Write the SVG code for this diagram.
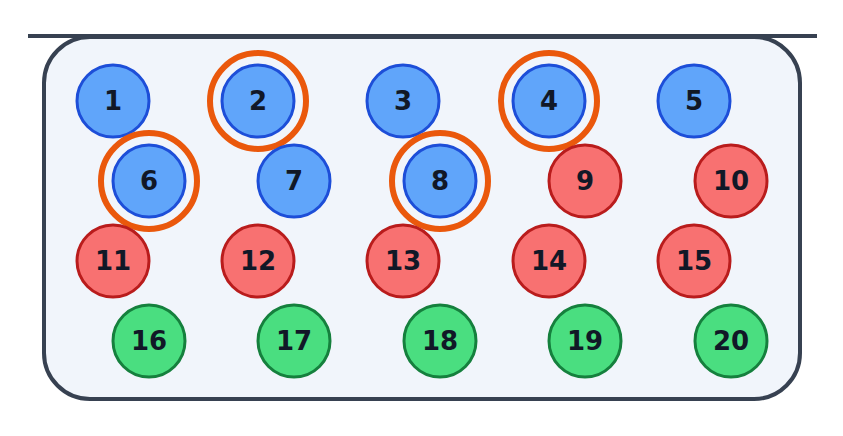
<svg xmlns="http://www.w3.org/2000/svg" width="843" height="436" viewBox="0 0 843 436">
<style>
.b{fill:#60a5fa;stroke:#1d4ed8;stroke-width:3}
.r{fill:#f87171;stroke:#b91c1c;stroke-width:3}
.g{fill:#4ade80;stroke:#15803d;stroke-width:3}
.ring{fill:none;stroke:#ea580c;stroke-width:6}
text{font-family:"DejaVu Sans",sans-serif;font-weight:bold;font-size:26px;fill:#111827;text-anchor:middle;dominant-baseline:central}
</style>
<rect width="843" height="436" fill="#fff"/>
<rect x="44" y="37" width="756" height="362" rx="46" fill="#f1f5fb" stroke="#374151" stroke-width="4"/>
<line x1="28" y1="36" x2="817" y2="36" stroke="#374151" stroke-width="4"/>
<g id="connectors"/>
<g id="n1"><circle class="b" cx="113" cy="101" r="36"/><text x="113" y="101">1</text></g>
<g id="n2"><circle class="ring" cx="258" cy="101" r="48"/><circle class="b" cx="258" cy="101" r="36"/><text x="258" y="101">2</text></g>
<g id="n3"><circle class="b" cx="403" cy="101" r="36"/><text x="403" y="101">3</text></g>
<g id="n4"><circle class="ring" cx="549" cy="101" r="48"/><circle class="b" cx="549" cy="101" r="36"/><text x="549" y="101">4</text></g>
<g id="n5"><circle class="b" cx="694" cy="101" r="36"/><text x="694" y="101">5</text></g>
<g id="n6"><circle class="ring" cx="149" cy="181" r="48"/><circle class="b" cx="149" cy="181" r="36"/><text x="149" y="181">6</text></g>
<g id="n7"><circle class="b" cx="294" cy="181" r="36"/><text x="294" y="181">7</text></g>
<g id="n8"><circle class="ring" cx="440" cy="181" r="48"/><circle class="b" cx="440" cy="181" r="36"/><text x="440" y="181">8</text></g>
<g id="n9"><circle class="r" cx="585" cy="181" r="36"/><text x="585" y="181">9</text></g>
<g id="n10"><circle class="r" cx="731" cy="181" r="36"/><text x="731" y="181">10</text></g>
<g id="n11"><circle class="r" cx="113" cy="261" r="36"/><text x="113" y="261">11</text></g>
<g id="n12"><circle class="r" cx="258" cy="261" r="36"/><text x="258" y="261">12</text></g>
<g id="n13"><circle class="r" cx="403" cy="261" r="36"/><text x="403" y="261">13</text></g>
<g id="n14"><circle class="r" cx="549" cy="261" r="36"/><text x="549" y="261">14</text></g>
<g id="n15"><circle class="r" cx="694" cy="261" r="36"/><text x="694" y="261">15</text></g>
<g id="n16"><circle class="g" cx="149" cy="341" r="36"/><text x="149" y="341">16</text></g>
<g id="n17"><circle class="g" cx="294" cy="341" r="36"/><text x="294" y="341">17</text></g>
<g id="n18"><circle class="g" cx="440" cy="341" r="36"/><text x="440" y="341">18</text></g>
<g id="n19"><circle class="g" cx="585" cy="341" r="36"/><text x="585" y="341">19</text></g>
<g id="n20"><circle class="g" cx="731" cy="341" r="36"/><text x="731" y="341">20</text></g>
</svg>
